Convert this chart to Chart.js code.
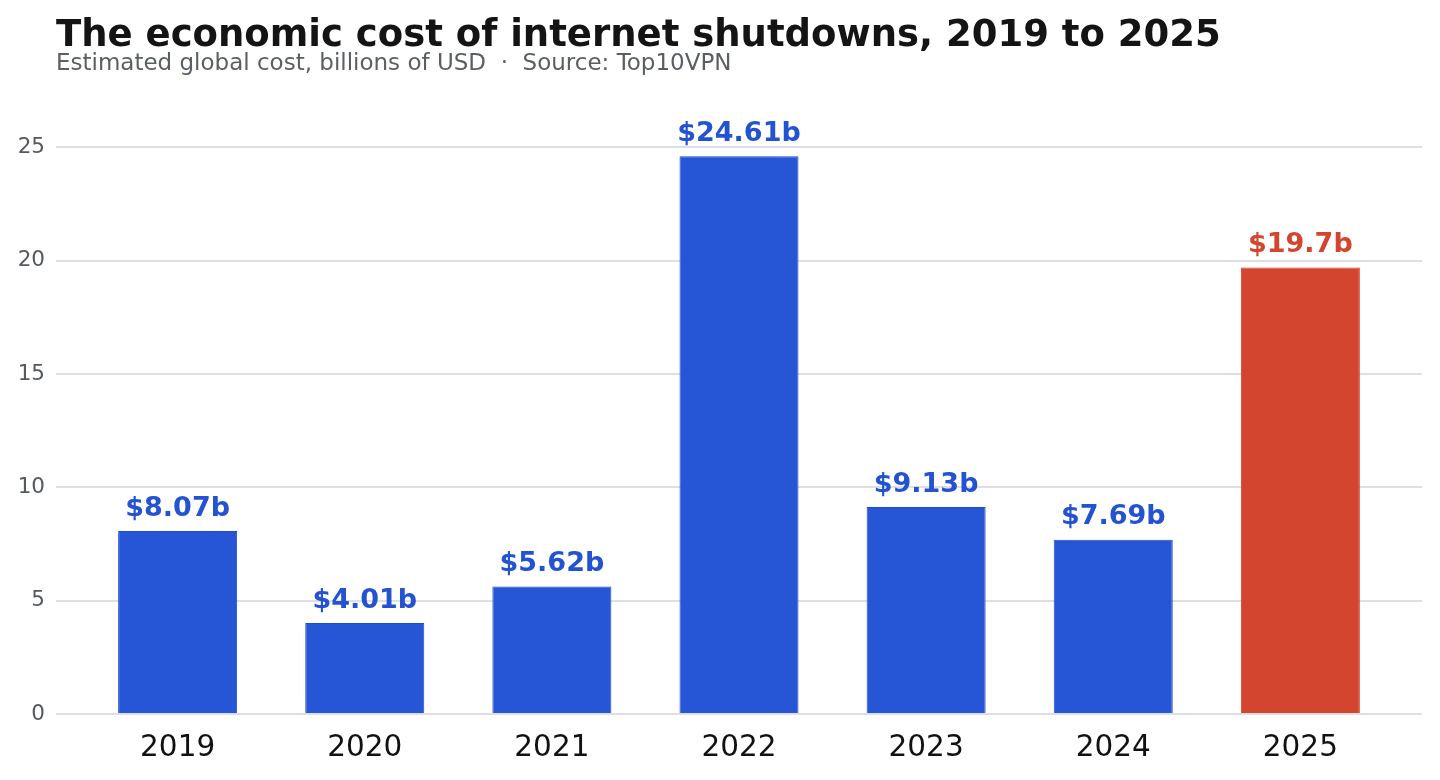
<!DOCTYPE html>
<html>
<head>
<meta charset="utf-8">
<script src="https://cdn.jsdelivr.net/npm/chart.js@4.4.1/dist/chart.umd.min.js"></script>
<style>
  html, body { margin: 0; padding: 0; background: #ffffff; }
  #wrap { position: relative; width: 1440px; height: 780px; }
  #title {
    position: absolute; left: 56px; top: 12px;
    font-family: "DejaVu Sans", sans-serif; font-weight: bold;
    font-size: 37px; color: #141414; white-space: nowrap;
  }
  #subtitle {
    position: absolute; left: 56px; top: 49px;
    font-family: "DejaVu Sans", sans-serif;
    font-size: 23px; color: #5a5e66; white-space: pre;
  }
  #box { position: absolute; left: 0; top: 0; width: 1440px; height: 780px; }
</style>
</head>
<body>
<div id="wrap">
  <div id="box"><canvas id="myChart"></canvas></div>
  <div id="title">The economic cost of internet shutdowns, 2019 to 2025</div>
  <div id="subtitle">Estimated global cost, billions of USD  ·  Source: Top10VPN</div>
</div>
<script>
// chart data
const years = ["2019", "2020", "2021", "2022", "2023", "2024", "2025"];
const costs = [8.07, 4.01, 5.62, 24.61, 9.13, 7.69, 19.7];
const valueLabels = ["$8.07b", "$4.01b", "$5.62b", "$24.61b", "$9.13b", "$7.69b", "$19.7b"];
const yTicks = [0, 5, 10, 15, 20, 25];

// colours: last year highlighted in red
const blue = "#2655d6";
const red = "#d4452f";
const barColors = years.map((y, i) => (i === years.length - 1 ? red : blue));
const edgeColors = years.map((y, i) => (i === years.length - 1 ? "#cf412b" : "#1f4acd"));

// points on a linear x axis so the plot keeps some margin on both sides
const points = costs.map((v, i) => ({ x: i, y: v }));

// plugin that writes the value labels above each bar
const barLabels = {
  id: "barLabels",
  afterDatasetsDraw(chart) {
    const c = chart.ctx;
    const meta = chart.getDatasetMeta(0);
    c.save();
    c.font = "bold 27px 'DejaVu Sans'";
    c.textAlign = "center";
    c.textBaseline = "bottom";
    meta.data.forEach((bar, i) => {
      c.fillStyle = i === years.length - 1 ? red : "#2352d2";
      c.fillText(valueLabels[i], bar.x, bar.y - 9);
    });
    c.restore();
  },
};

const ctx = document.getElementById("myChart").getContext("2d");
const myChart = new Chart(ctx, {
  type: "bar",
  data: {
    datasets: [
      {
        data: points,
        backgroundColor: barColors,
        borderColor: edgeColors,
        borderWidth: 1,
        borderSkipped: "bottom",
        barPercentage: 0.636,
        categoryPercentage: 1,
      },
    ],
  },
  options: {
    responsive: true,
    maintainAspectRatio: false,
    animation: false,
    layout: { padding: { top: 102, right: 18, left: 0, bottom: 0 } },
    plugins: {
      legend: { display: false },
      tooltip: { enabled: false },
    },
    scales: {
      x: {
        type: "linear",
        offset: false,
        min: -0.65,
        max: 6.65,
        afterBuildTicks: (axis) => {
          axis.ticks = years.map((y, i) => ({ value: i }));
        },
        afterFit: (axis) => {
          axis.height = 66;
        },
        grid: { display: false, drawTicks: false },
        border: { display: false },
        ticks: {
          padding: 17,
          color: "#111111",
          font: { family: "DejaVu Sans", size: 29.5 },
          callback: (v) => years[v] ?? "",
          maxRotation: 0,
          autoSkip: false,
        },
      },
      y: {
        min: 0,
        max: 27,
        afterBuildTicks: (axis) => {
          axis.ticks = yTicks.map((v) => ({ value: v }));
        },
        afterFit: (axis) => {
          axis.width = 56;
        },
        grid: { color: "#dedee3", lineWidth: 2, drawTicks: false },
        border: { display: false },
        ticks: {
          padding: 11,
          color: "#555a60",
          font: { family: "DejaVu Sans", size: 21.5 },
        },
      },
    },
  },
  plugins: [barLabels],
});
</script>
</body>
</html>
